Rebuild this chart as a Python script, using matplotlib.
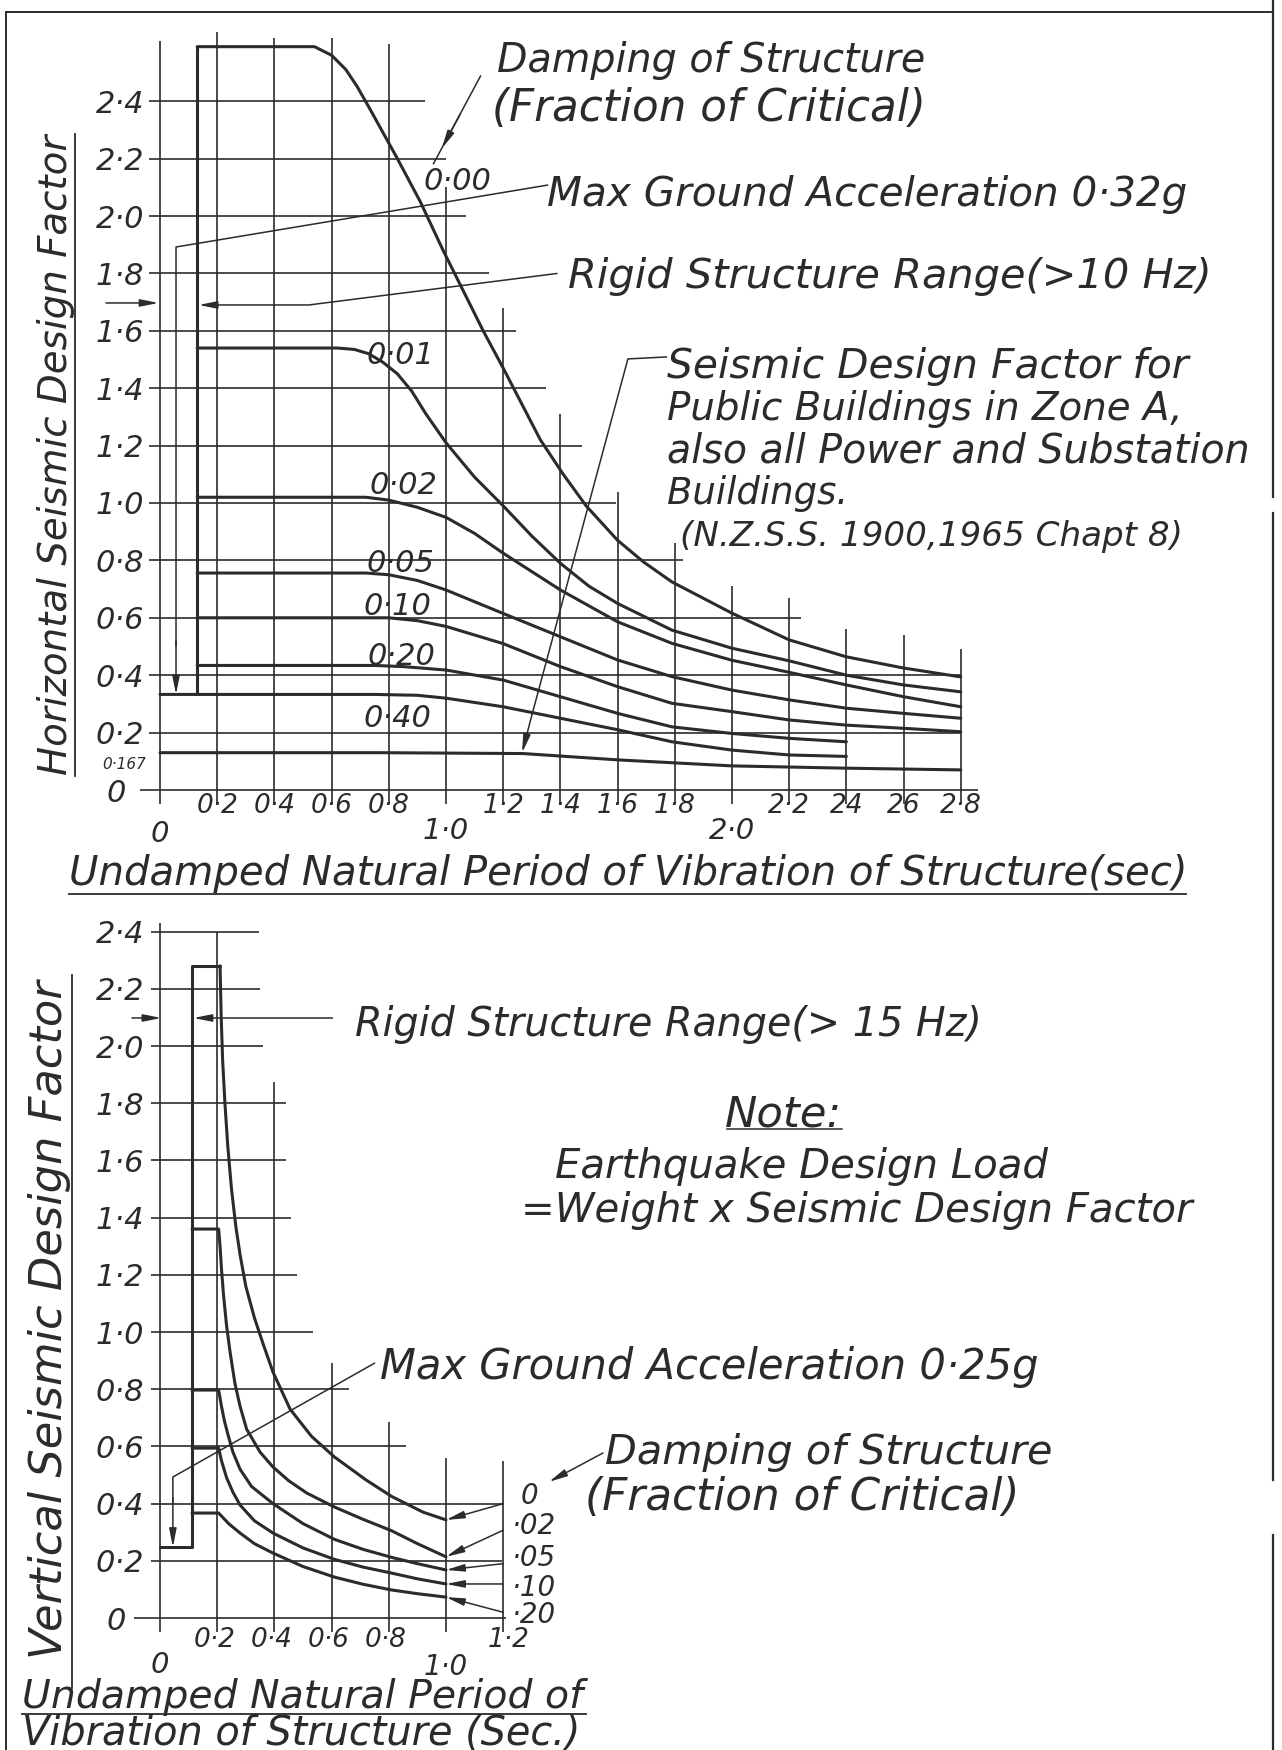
import matplotlib.pyplot as plt
from matplotlib.lines import Line2D

W, H = 1282, 1750
INK = "#2b2b2b"
FONT = ["DejaVu Sans"]

# ---- horizontal seismic design factor, by damping (period sec, factor) ----
H_DAMPING = ["0·00", "0·01", "0·02", "0·05", "0·10", "0·20", "0·40"]

H_T_000 = [0.13, 0.54, 0.60, 0.65, 0.69, 0.73, 0.83, 0.91, 0.99, 1.04, 1.13, 1.20,
           1.33, 1.41, 1.49, 1.60, 1.69, 1.79, 2.00, 2.20, 2.40, 2.60, 2.80]
H_F_000 = [2.59, 2.59, 2.56, 2.51, 2.45, 2.38, 2.20, 2.05, 1.88, 1.78, 1.60, 1.47,
           1.22, 1.10, 0.99, 0.87, 0.795, 0.725, 0.616, 0.523, 0.464, 0.425, 0.394]

H_T_001 = [0.13, 0.62, 0.68, 0.73, 0.78, 0.83, 0.88, 0.93, 1.00, 1.10, 1.20, 1.30,
           1.40, 1.50, 1.60, 1.79, 2.00, 2.20, 2.40, 2.60, 2.80]
H_F_001 = [1.54, 1.54, 1.535, 1.52, 1.49, 1.45, 1.39, 1.31, 1.21, 1.09, 0.99, 0.885,
           0.79, 0.71, 0.65, 0.557, 0.494, 0.45, 0.40, 0.366, 0.342]

H_T_002 = [0.13, 0.72, 0.80, 0.90, 1.00, 1.10, 1.20, 1.40, 1.60, 1.79, 2.00, 2.20,
           2.40, 2.60, 2.80]
H_F_002 = [1.02, 1.02, 1.01, 0.985, 0.95, 0.894, 0.825, 0.697, 0.586, 0.511, 0.452,
           0.41, 0.366, 0.325, 0.29]

H_T_005 = [0.13, 0.72, 0.80, 0.90, 1.00, 1.20, 1.40, 1.60, 1.79, 2.00, 2.20, 2.40,
           2.60, 2.80]
H_F_005 = [0.756, 0.756, 0.75, 0.73, 0.697, 0.615, 0.534, 0.453, 0.395, 0.348,
           0.314, 0.285, 0.267, 0.25]

H_T_010 = [0.13, 0.72, 0.80, 0.90, 1.00, 1.20, 1.40, 1.60, 1.79, 2.00, 2.20, 2.40,
           2.60, 2.80]
H_F_010 = [0.60, 0.60, 0.60, 0.59, 0.57, 0.51, 0.43, 0.36, 0.302, 0.273, 0.244,
           0.226, 0.215, 0.203]

H_T_020 = [0.13, 0.75, 0.85, 1.00, 1.20, 1.40, 1.60, 1.79, 2.00, 2.20, 2.40]
H_F_020 = [0.434, 0.434, 0.43, 0.418, 0.383, 0.325, 0.267, 0.22, 0.197, 0.18, 0.168]

H_T_040 = [0.0, 0.75, 0.90, 1.00, 1.20, 1.40, 1.60, 1.79, 2.00, 2.20, 2.40]
H_F_040 = [0.333, 0.333, 0.33, 0.32, 0.29, 0.25, 0.21, 0.168, 0.139, 0.122, 0.117]

# public buildings zone A (N.Z.S.S. 1900)
ZONE_A_T = [0.0, 0.77, 1.27, 1.60, 2.00, 2.40, 2.80]
ZONE_A_F = [0.13, 0.13, 0.127, 0.105, 0.084, 0.076, 0.07]

H_RIGID_T = 0.13          # rigid structure limit (>10 Hz)
H_PGA = 0.333             # max ground acceleration 0.32g

# ---- vertical seismic design factor ----
V_DAMPING = ["0", "·02", "·05", "·10", "·20"]

V_T_0 = [0.21, 0.214, 0.219, 0.227, 0.237, 0.25, 0.265, 0.28, 0.30, 0.33, 0.36,
         0.395, 0.455, 0.53, 0.61, 0.72, 0.81, 0.92, 1.00]
V_F_0 = [2.28, 2.10, 1.95, 1.80, 1.65, 1.50, 1.37, 1.27, 1.16, 1.05, 0.96, 0.86,
         0.73, 0.635, 0.563, 0.483, 0.425, 0.37, 0.343]

V_T_02 = [0.112, 0.205, 0.21, 0.215, 0.222, 0.233, 0.245, 0.262, 0.28, 0.303, 0.35,
          0.395, 0.45, 0.513, 0.61, 0.71, 0.81, 0.90, 1.00]
V_F_02 = [1.36, 1.36, 1.30, 1.22, 1.13, 1.02, 0.93, 0.82, 0.74, 0.66, 0.58, 0.528,
          0.48, 0.437, 0.388, 0.345, 0.305, 0.26, 0.214]

V_T_05 = [0.112, 0.205, 0.215, 0.225, 0.238, 0.255, 0.28, 0.32, 0.395, 0.50, 0.61,
          0.71, 0.81, 0.90, 1.00]
V_F_05 = [0.797, 0.797, 0.74, 0.69, 0.64, 0.58, 0.52, 0.46, 0.40, 0.33, 0.275,
          0.24, 0.212, 0.19, 0.168]

V_T_10 = [0.112, 0.205, 0.215, 0.233, 0.255, 0.28, 0.33, 0.395, 0.50, 0.61, 0.71,
          0.81, 0.90, 1.00]
V_F_10 = [0.594, 0.594, 0.55, 0.49, 0.44, 0.395, 0.34, 0.297, 0.245, 0.205, 0.178,
          0.157, 0.137, 0.119]

V_T_20 = [0.112, 0.205, 0.24, 0.28, 0.33, 0.395, 0.50, 0.61, 0.71, 0.81, 0.90, 1.00]
V_F_20 = [0.367, 0.367, 0.33, 0.297, 0.26, 0.227, 0.18, 0.143, 0.118, 0.098, 0.085,
          0.073]

V_RIGID_T = 0.112         # rigid structure limit (>15 Hz)
V_PEAK = 2.28
V_PGA = 0.248             # max ground acceleration 0.25g

# ---- hand-ruled grid extents ----
H_VGRID = [0.0, 0.2, 0.4, 0.6, 0.8, 1.0, 1.2, 1.4, 1.6, 1.8, 2.0, 2.2, 2.4, 2.6, 2.8]
H_VGRID_TOP = [2.61, 2.64, 2.62, 2.62, 2.60, 2.10, 1.68, 1.31, 1.04, 0.86, 0.71,
               0.67, 0.56, 0.54, 0.49]
H_HGRID = [0.0, 0.2, 0.4, 0.6, 0.8, 1.0, 1.2, 1.4, 1.6, 1.8, 2.0, 2.2, 2.4]
H_HGRID_END = [2.86, 2.80, 2.80, 2.24, 1.83, 1.595, 1.475, 1.35, 1.245, 1.15, 1.07,
               1.00, 0.927]

V_VGRID = [0.0, 0.2, 0.4, 0.6, 0.8, 1.0, 1.2]
V_VGRID_TOP = [2.43, 2.40, 1.875, 0.89, 0.685, 0.56, 0.55]
V_HGRID = [0.0, 0.2, 0.4, 0.6, 0.8, 1.0, 1.2, 1.4, 1.6, 1.8, 2.0, 2.2, 2.4]
V_HGRID_END = [1.21, 1.195, 1.20, 0.86, 0.66, 0.535, 0.48, 0.457, 0.44, 0.44, 0.36,
               0.35, 0.345]

Y_TICK_LABELS = ["0", "0·2", "0·4", "0·6", "0·8", "1·0", "1·2", "1·4", "1·6",
                 "1·8", "2·0", "2·2", "2·4"]
H_X_TICK_LABELS = ["0", "0·2", "0·4", "0·6", "0·8", "1·0", "1·2", "1·4", "1·6",
                   "1·8", "2·0", "2·2", "24", "26", "2·8"]
V_X_TICK_LABELS = ["0", "0·2", "0·4", "0·6", "0·8", "1·0", "1·2"]


def curve(ax, xs, ys, lw=2.2):
    ax.plot(xs, ys, color=INK, lw=lw, solid_capstyle="round",
            solid_joinstyle="round")


def rule(ax, xs, ys, lw=1.2):
    ax.plot(xs, ys, color=INK, lw=lw, solid_capstyle="butt")


def arrow(ax, start, end, lw=1.1):
    ax.annotate("", xy=end, xytext=start,
                arrowprops=dict(arrowstyle="-|>,head_length=1.1,head_width=0.22",
                                color=INK, lw=lw, shrinkA=0, shrinkB=0))


def lettering(ax, x, y, s, size, ha="center"):
    ax.text(x, y, s, ha=ha, va="center_baseline", fontsize=size, family=FONT,
            style="italic", color=INK)


def say(px, py, s, width, ha="left", rot=0):
    # free lettering placed in sheet pixels, sized to its drawn length
    t = fig.text(px / W, 1 - py / H, s, fontsize=26, ha=ha,
                 va="center" if rot else "center_baseline", rotation=rot,
                 family=FONT, style="italic", color=INK)
    bb = t.get_window_extent(fig.canvas.get_renderer())
    size = bb.height if rot else bb.width
    t.set_fontsize(26 * width / size)
    return t


def fig_line(xs, ys, lw=1.3):
    fig.add_artist(Line2D([x / W for x in xs], [1 - y / H for y in ys],
                          transform=fig.transFigure, color=INK, lw=lw))


fig = plt.figure(figsize=(W / 100, H / 100), dpi=100)
fig.patch.set_facecolor("white")

# both panels share the same period scale (286 px per second)
ax_h = fig.add_axes([0, 1 - 875 / H, 1, 875 / H])
ax_h.set_xlim(-160 / 286, (W - 160) / 286)
ax_h.set_ylim((790 - 875) / 287, 790 / 287)

ax_v = fig.add_axes([0, 0, 1, 875 / H])
ax_v.set_xlim(-160 / 286, (W - 160) / 286)
ax_v.set_ylim((1618 - 1750) / 286, (1618 - 875) / 286)

for ax in (ax_h, ax_v):
    ax.axis("off")
    ax.patch.set_alpha(0)

# ---------------- horizontal panel ----------------
for x, top in zip(H_VGRID, H_VGRID_TOP):
    rule(ax_h, [x, x], [-0.05, top])
for y, end in zip(H_HGRID, H_HGRID_END):
    rule(ax_h, [-0.07 if y == 0 else -0.04, end], [y, y])

curve(ax_h, [H_RIGID_T, H_RIGID_T], [H_PGA, H_F_000[0]])
for xs, ys in [(H_T_000, H_F_000), (H_T_001, H_F_001), (H_T_002, H_F_002),
               (H_T_005, H_F_005), (H_T_010, H_F_010), (H_T_020, H_F_020),
               (H_T_040, H_F_040), (ZONE_A_T, ZONE_A_F)]:
    curve(ax_h, xs, ys)

for y, lab in zip(H_HGRID, Y_TICK_LABELS):
    lettering(ax_h, -0.12 if y == 0 else -0.055, y, lab, 22, ha="right")
lettering(ax_h, -0.05, 0.095, "0·167", 11, ha="right")
for x, lab in zip(H_VGRID, H_X_TICK_LABELS):
    if lab == "0":
        lettering(ax_h, x, -0.143, lab, 21)
    elif lab in ("1·0", "2·0"):
        lettering(ax_h, x, -0.132, lab, 21)
    else:
        lettering(ax_h, x, -0.045, lab, 19)

# damping labels along the curves
for lab, (x, y) in zip(H_DAMPING, [(1.04, 2.13), (0.84, 1.526), (0.85, 1.073),
                                   (0.84, 0.80), (0.83, 0.65), (0.845, 0.477),
                                   (0.83, 0.26)]):
    lettering(ax_h, x, y, lab, 22)

# leaders
rule(ax_h, [1.122, 0.955], [2.49, 2.18], lw=1.1)
arrow(ax_h, (1.05, 2.355), (0.985, 2.235))
rule(ax_h, [1.357, 0.056, 0.056], [2.108, 1.892, 0.50], lw=1.1)
arrow(ax_h, (0.056, 0.52), (0.056, H_PGA))
arrow(ax_h, (-0.189, 1.697), (-0.005, 1.697))
rule(ax_h, [1.39, 0.52, 0.24], [1.80, 1.69, 1.69], lw=1.1)
arrow(ax_h, (0.24, 1.69), (H_RIGID_T + 0.005, 1.69))
rule(ax_h, [1.773, 1.636, 1.30], [1.509, 1.502, 0.26], lw=1.1)
arrow(ax_h, (1.30, 0.26), (1.266, 0.13))

say(497, 56, "Damping of Structure", 429)
say(492, 104, "(Fraction of Critical)", 434)
say(547, 190, "Max Ground Acceleration 0·32g", 641)
say(568, 273, "Rigid Structure Range(>10 Hz)", 643)
say(667, 363, "Seismic Design Factor for", 521)
say(667, 405, "Public Buildings in Zone A,", 516)
say(667, 447, "also all Power and Substation", 583)
say(667, 490, "Buildings.", 181)
say(680, 533, "(N.Z.S.S. 1900,1965 Chapt 8)", 503)

say(69, 870, "Undamped Natural Period of Vibration of Structure(sec)", 1119)
fig_line([69, 1186], [894, 894])
say(56, 455, "Horizontal Seismic Design Factor", 641, ha="center", rot=90)
fig_line([75, 75], [134, 776])

# ---------------- vertical panel ----------------
for x, top in zip(V_VGRID, V_VGRID_TOP):
    rule(ax_v, [x, x], [-0.05, top])
for y, end in zip(V_HGRID, V_HGRID_END):
    rule(ax_v, [-0.09 if y == 0 else -0.03, end], [y, y])

# rigid range box and spectrum curves
curve(ax_v, [0.0, V_RIGID_T, V_RIGID_T, 0.21], [V_PGA, V_PGA, V_PEAK, V_PEAK])
for xs, ys in [(V_T_0, V_F_0), (V_T_02, V_F_02), (V_T_05, V_F_05),
               (V_T_10, V_F_10), (V_T_20, V_F_20)]:
    curve(ax_v, xs, ys)

for y, lab in zip(V_HGRID, Y_TICK_LABELS):
    lettering(ax_v, -0.12 if y == 0 else -0.055, y, lab, 22, ha="right")
for x, lab in zip(V_VGRID, V_X_TICK_LABELS):
    if lab == "0":
        lettering(ax_v, x, -0.154, lab, 21)
    elif lab == "1·0":
        lettering(ax_v, x, -0.162, lab, 20)
    else:
        lettering(ax_v, x - 0.01 if x < 1.1 else x + 0.02, -0.066, lab, 19)

# damping labels at the right end and their leaders
label_pos = [(1.26, 0.437), (1.23, 0.332), (1.23, 0.222), (1.23, 0.115),
             (1.23, 0.02)]
tips = [(V_T_0[-1], V_F_0[-1]), (V_T_02[-1], V_F_02[-1]), (V_T_05[-1], V_F_05[-1]),
        (V_T_10[-1], V_F_10[-1]), (V_T_20[-1], V_F_20[-1])]
starts = [(1.2, 0.40), (1.2, 0.307), (1.2, 0.19), (1.2, 0.119), (1.2, 0.02)]
for lab, (lx, ly), tip, st in zip(V_DAMPING, label_pos, tips, starts):
    lettering(ax_v, lx, ly, lab, 20, ha="left")
    arrow(ax_v, st, tip)

arrow(ax_v, (-0.098, 2.098), (0.005, 2.098))
rule(ax_v, [0.605, 0.24], [2.098, 2.098], lw=1.1)
arrow(ax_v, (0.24, 2.098), (V_RIGID_T + 0.005, 2.098))
rule(ax_v, [0.752, 0.045, 0.045], [0.892, 0.493, 0.40], lw=1.1)
arrow(ax_v, (0.045, 0.42), (0.045, V_PGA))
arrow(ax_v, (1.549, 0.577), (1.36, 0.476))

say(355, 1021, "Rigid Structure Range(> 15 Hz)", 627)
say(725, 1110, "Note:", 117)
fig_line([727, 842], [1129, 1129], lw=1.1)
say(555, 1163, "Earthquake Design Load", 494)
say(521, 1207, "=Weight x Seismic Design Factor", 673)
say(380, 1363, "Max Ground Acceleration 0·25g", 658)
say(605, 1448, "Damping of Structure", 447)
say(585, 1493, "(Fraction of Critical)", 435)

say(22, 1693, "Undamped Natural Period of", 560)
fig_line([22, 586], [1714, 1714])
say(22, 1729, "Vibration of Structure (Sec.)", 560)
say(50, 1320, "Vertical Seismic Design Factor", 680, ha="center", rot=90)
fig_line([72, 72], [975, 1688])

# sheet border
fig_line([6, 6], [12, 1750], lw=1.4)
fig_line([6, 1273], [12, 12], lw=1.4)
fig_line([1273, 1273], [0, 497], lw=1.6)
fig_line([1273, 1273], [513, 1480], lw=1.6)
fig_line([1273, 1273], [1535, 1750], lw=1.6)

fig.savefig("out.png", dpi=100, facecolor="white")
